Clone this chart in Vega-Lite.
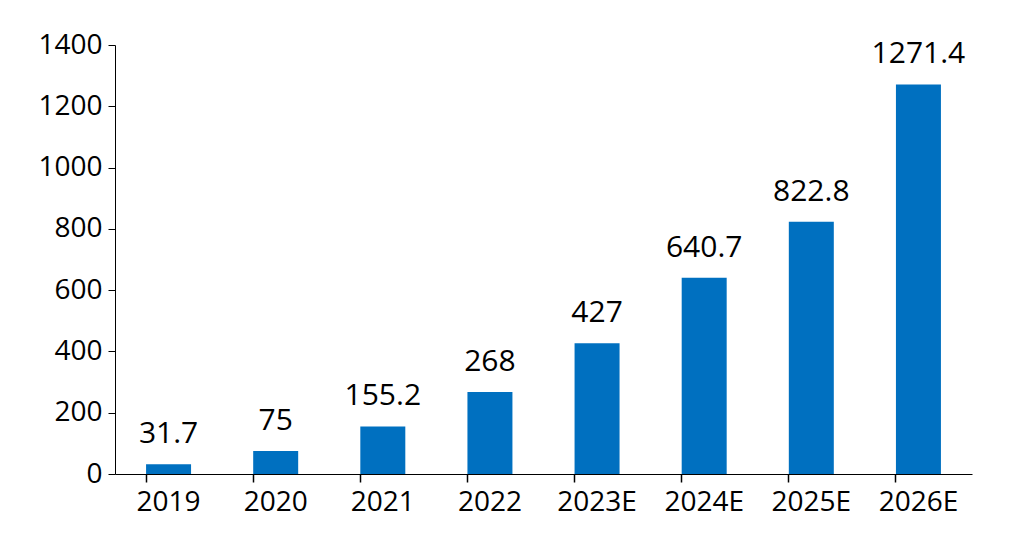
{
  "$schema": "https://vega.github.io/schema/vega-lite/v6.json",
  "autosize": {"type": "none"},
  "padding": {"left": 115, "top": 45, "right": 55, "bottom": 78},
  "width": 857,
  "height": 429,
  "background": "white",
  "config": {"view": {"stroke": null}, "font": "Open Sans", "axisX": {"ticks": true, "tickOpacity": 1, "tickWidth": 1.5}},
  "data": {
    "values": [
      {"year": "2019", "value": 31.7, "label": "31.7"},
      {"year": "2020", "value": 75, "label": "75"},
      {"year": "2021", "value": 155.2, "label": "155.2"},
      {"year": "2022", "value": 268, "label": "268"},
      {"year": "2023E", "value": 427, "label": "427"},
      {"year": "2024E", "value": 640.7, "label": "640.7"},
      {"year": "2025E", "value": 822.8, "label": "822.8"},
      {"year": "2026E", "value": 1271.4, "label": "1271.4"}
    ]
  },
  "encoding": {
    "x": {
      "field": "year", "type": "nominal", "sort": null,
      "scale": {"paddingInner": 0.58, "paddingOuter": 0.29},
      "axis": {
        "title": null, "labelAngle": 0, "labelFontSize": 28, "labelColor": "black",
        "domainColor": "black", "ticks": true, "tickColor": "black", "tickSize": 8,
        "bandPosition": 0, "labelPadding": 6
      }
    },
    "y": {
      "field": "value", "type": "quantitative",
      "scale": {"domain": [0, 1400]},
      "axis": {
        "title": null, "grid": false, "values": [0, 200, 400, 600, 800, 1000, 1200, 1400],
        "format": "d",
        "labelFontSize": 28, "labelColor": "black", "domainColor": "black",
        "tickColor": "black", "tickSize": 7, "labelPadding": 6
      }
    }
  },
  "layer": [
    {"mark": {"type": "bar", "color": "#0070C0"}},
    {
      "mark": {"type": "text", "dy": -30, "fontSize": 30, "color": "black"},
      "encoding": {"text": {"field": "label"}}
    }
  ]
}
